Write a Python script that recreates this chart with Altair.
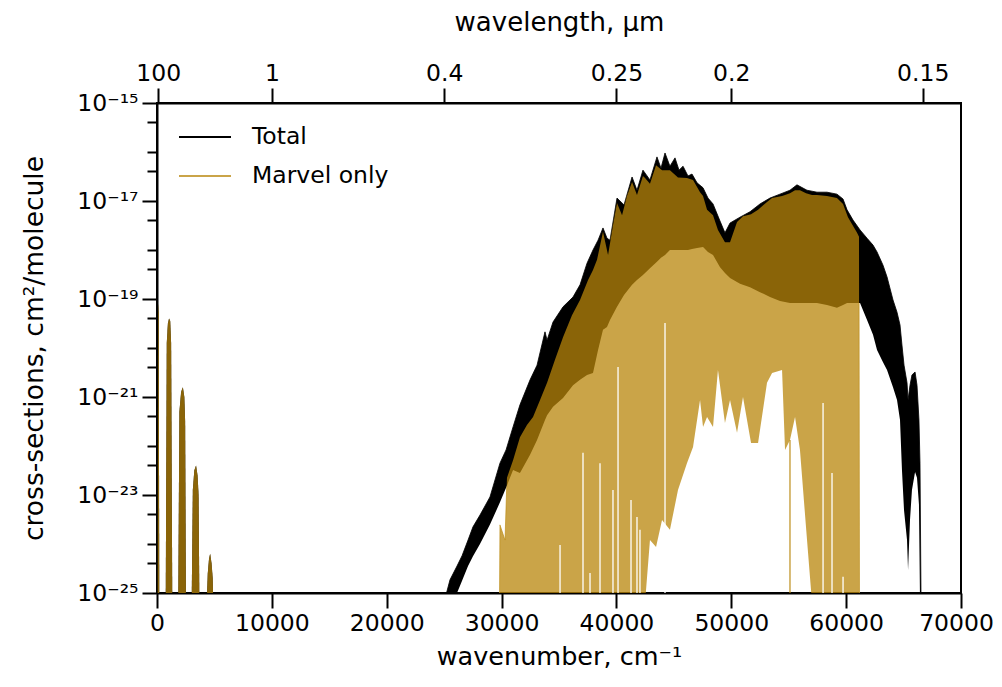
import altair as alt
import pandas as pd

# ---------------- data (log10 of cross-section, cm^2/molecule) -------------
# "Total": envelope of the dense line spectrum (upper and lower edge of the black band)
total_wn = [25160, 25510, 26120, 26560, 27080, 27510, 28120, 28990, 29860, 30390,
            31000, 31600, 32480, 33090, 33780, 33960, 34480, 35350, 36220, 36830,
            37440, 37960, 38400, 38830, 39180, 39440, 40050, 40660, 41360, 41790,
            42310, 42920, 43530, 43880, 44230, 44660, 45100, 45450, 45800, 46230,
            46580, 47020, 47540, 47970, 48410, 49020, 49450, 49890, 50760, 51630,
            52500, 53370, 54240, 55110, 55720, 56590, 57460, 58330, 59200, 59730,
            60080, 60600, 61210, 61820, 62340, 62690, 63210, 63560, 64080, 64430,
            64690, 64860, 65040, 65300, 65390, 65560, 65730, 66000, 66170, 66340,
            66430, 66520]
total_hi = [-25.04, -24.73, -24.45, -24.24, -23.92, -23.65, -23.41, -23.04, -22.35, -22.08,
            -21.61, -21.16, -20.65, -20.35, -19.67, -19.84, -19.47, -19.16, -18.96, -18.71,
            -18.27, -18.00, -17.80, -17.55, -17.76, -17.80, -16.94, -17.08, -16.51, -16.78,
            -16.37, -16.57, -16.10, -16.33, -16.02, -16.29, -16.12, -16.37, -16.29, -16.49,
            -16.45, -16.63, -16.73, -16.94, -17.06, -17.41, -17.65, -17.45, -17.33, -17.22,
            -17.06, -16.94, -16.86, -16.78, -16.67, -16.78, -16.82, -16.82, -16.86, -16.96,
            -17.18, -17.39, -17.59, -17.76, -17.90, -18.04, -18.31, -18.55, -19.02, -19.27,
            -19.53, -19.94, -20.35, -20.71, -21.06, -20.76, -20.55, -20.49, -20.76, -21.47,
            -22.35, -25.14]
total_lo = [-25.14, -25.14, -25.00, -24.75, -24.45, -24.25, -24.00, -23.60, -23.15, -22.85,
            -22.49, -22.55, -22.18, -21.88, -21.47, -21.37, -21.20, -21.02, -20.76, -20.65,
            -20.55, -20.51, -20.04, -19.63, -19.57, -19.43, -19.16, -18.92, -18.71, -18.61,
            -18.51, -18.37, -18.24, -18.16, -18.10, -18.00, -18.00, -18.00, -18.00, -18.00,
            -17.98, -17.96, -17.94, -18.04, -18.10, -18.35, -18.47, -18.57, -18.69, -18.76,
            -18.86, -18.96, -19.04, -19.08, -19.08, -19.08, -19.08, -19.12, -19.18, -19.12,
            -19.08, -19.08, -19.08, -19.43, -19.73, -20.04, -20.29, -20.45, -20.80, -21.06,
            -21.47, -22.49, -23.31, -23.92, -24.53, -23.51, -22.90, -22.53, -22.65, -23.20,
            -25.14, -25.14]

# "Marvel only": upper envelope and lowest extent of its lines
marvel_wn = [29820, 29860, 30300, 30470, 31000, 31600, 32210, 32740, 33350, 33960,
             34650, 35350, 36130, 36830, 37530, 37960, 38310, 38830, 39270, 39700,
             40050, 40490, 40920, 41360, 41790, 42310, 42490, 42920, 43450, 43970,
             44660, 45360, 46140, 46670, 47280, 47540, 47890, 48410, 48840, 49450,
             49890, 50500, 51020, 51720, 52330, 53110, 53550, 54420, 54680, 55110,
             55550, 55980, 56510, 57030, 57460, 58330, 59200, 59730, 60160, 60950,
             61120, 61160]
marvel_hi = [-25.2, -23.61, -23.92, -22.65, -22.29, -21.82, -21.57, -21.41, -21.06, -20.71,
             -20.24, -19.78, -19.33, -19.02, -18.61, -18.41, -18.20, -17.63, -18.10, -17.50,
             -17.04, -17.29, -16.90, -16.61, -16.88, -16.49, -16.53, -16.65, -16.27, -16.37,
             -16.37, -16.52, -16.53, -16.57, -16.82, -16.90, -17.18, -17.29, -17.59, -17.84,
             -17.84, -17.43, -17.31, -17.27, -17.18, -17.02, -16.94, -16.90, -16.88, -16.84,
             -16.78, -16.78, -16.84, -16.88, -16.88, -16.90, -16.94, -17.06, -17.33, -17.65,
             -17.73, -25.2]
marvel_lo = [-25.2, -25.2, -25.2, -25.2, -25.2, -25.2, -25.2, -25.2, -25.2, -25.2,
             -25.2, -25.2, -25.2, -25.2, -25.2, -25.2, -25.2, -25.2, -25.2, -25.2,
             -25.2, -25.2, -25.2, -25.2, -25.2, -25.2, -25.2, -23.92, -24.06, -23.51,
             -23.71, -22.90, -22.35, -22.02, -21.06, -21.61, -21.41, -21.61, -20.45, -21.53,
             -21.06, -21.73, -21.00, -21.94, -21.94, -20.71, -20.51, -20.45, -22.08, -21.88,
             -21.41, -22.08, -23.67, -25.2, -25.2, -25.2, -25.2, -25.2, -25.2, -25.2,
             -25.2, -25.2]

# single deep Marvel lines, and the gaps between lines near the bottom
spike_wn = [55110]
spike_top = [-21.88]
gap_wn = [35090, 37090, 37700, 38570, 39700, 40140, 41270, 41790, 42050, 44230,
          57990, 58770, 59730]
gap_top = [-24.02, -22.14, -24.59, -22.35, -22.90, -20.39, -23.10, -23.45, -23.71, -19.49,
           -21.12, -22.55, -24.67]

# low-wavenumber rotational bands (Total and Marvel coincide)
band_id = [1] * 4 + [2] * 7 + [3] * 7 + [4] * 7 + [5] * 7
band_wn = [60, 90, 150, 200,
           760, 850, 950, 1050, 1150, 1230, 1330,
           1850, 1950, 2100, 2250, 2380, 2450, 2520,
           3020, 3120, 3250, 3400, 3530, 3620, 3690,
           4330, 4420, 4530, 4630, 4750, 4850, 4900]
band_val = [-25.2, -19.1, -19.3, -25.2,
            -25.2, -19.9, -19.5, -19.4, -19.45, -19.9, -25.2,
            -25.2, -21.3, -20.9, -20.8, -21.0, -21.5, -25.2,
            -25.2, -22.9, -22.5, -22.4, -22.6, -23.0, -25.2,
            -25.2, -24.6, -24.3, -24.2, -24.4, -24.7, -25.2]

# axis ticks
x_ticks = [0, 10000, 20000, 30000, 40000, 50000, 60000, 70000]
top_ticks_um = [100, 1, 0.4, 0.25, 0.2, 0.15]
y_major_exp = [-25, -23, -21, -19, -17, -15]
y_major_lab = ['10⁻²⁵', '10⁻²³', '10⁻²¹', '10⁻¹⁹', '10⁻¹⁷', '10⁻¹⁵']
y_minor = [4e-16, 1e-16, 4e-17, 4e-18, 1e-18, 4e-19, 4e-20, 1e-20, 4e-21,
           4e-22, 1e-22, 4e-23, 4e-24, 1e-24, 4e-25]

BASE = 1e-26
FONT = 'DejaVu Sans'
BLACK = '#000000'
GOLD = '#B8860B'
GOLD_LEGEND = '#CAA448'

# ---------------- tables ----------------
tot = pd.DataFrame({'wn': total_wn,
                    'hi': [10.0 ** v for v in total_hi],
                    'lo': [10.0 ** v for v in total_lo]})
mar = pd.DataFrame({'wn': marvel_wn,
                    'hi': [10.0 ** v for v in marvel_hi],
                    'lo': [10.0 ** v for v in marvel_lo]})
bands = pd.DataFrame({'wn': band_wn, 'v': [10.0 ** v for v in band_val],
                      'band': band_id, 'base': BASE})
spikes = pd.DataFrame({'wn': spike_wn, 'top': [10.0 ** v for v in spike_top], 'base': BASE})
gaps = pd.DataFrame({'wn': gap_wn, 'top': [10.0 ** v for v in gap_top], 'base': BASE})
leg = pd.concat([
    pd.DataFrame({'wn': total_wn, 'v': [10.0 ** v for v in total_hi], 'series': 'Total'}),
    pd.DataFrame({'wn': marvel_wn, 'v': [10.0 ** v for v in marvel_hi], 'series': 'Marvel only'}),
])

# ---------------- scales / axes ----------------
xscale = alt.Scale(domain=[0, 70000], nice=False, zero=False)
yscale = alt.Scale(type='log', domain=[1e-25, 1e-15], nice=False)

E = 'round(log(datum.value)/LN10)'
is_major = f'abs(log(datum.value)/LN10 - {E}) < 0.001 && {E} % 2 != 0'
lab = "''"
for e, s in zip(y_major_exp, y_major_lab):
    lab = f"{E} == {e} ? '{s}' : ({lab})"
y_label_expr = f'({is_major}) ? ({lab}) : \'\''
y_values = [10.0 ** e for e in y_major_exp] + y_minor

xaxis = alt.Axis(title='wavenumber, cm⁻¹', values=x_ticks, format='d', tickSize=15,
                 labelPadding=3, titlePadding=10, grid=False, labelFlush=False,
                 labelOverlap=False, titleFontSize=25.5,
                 labelOffset={'condition': {'test': 'datum.value >= 70000', 'value': -5},
                              'value': 0})
yaxis = alt.Axis(title='cross-sections, cm²/molecule', values=y_values,
                 labelExpr=y_label_expr,
                 tickSize={'condition': {'test': is_major, 'value': 15}, 'value': 10},
                 labelPadding=4, titlePadding=28, grid=False, labelFlush=False,
                 labelOverlap=False, titleFontSize=26.5)
top_axis = alt.Axis(orient='top', title='wavelength, μm',
                    values=[1e4 / w for w in top_ticks_um],
                    labelExpr="format(10000/datum.value, '~g')", tickSize=15,
                    labelPadding=3, titlePadding=26, grid=False, labelFlush=False,
                    labelOverlap=False, titleFontSize=26)


def X():
    return alt.X('wn:Q', scale=xscale, axis=xaxis)


legend_lines = alt.Chart(leg).mark_line(strokeWidth=0.8, clip=True).encode(
    x=X(), y=alt.Y('v:Q', scale=yscale, axis=yaxis),
    color=alt.Color('series:N', scale=alt.Scale(domain=['Total', 'Marvel only'],
                                                range=[BLACK, GOLD_LEGEND]),
                    legend=alt.Legend(title=None)),
)

total_band = alt.Chart(tot).mark_area(color=BLACK, clip=True).encode(
    x=X(), y=alt.Y('hi:Q', scale=yscale, axis=yaxis), y2='lo:Q')
total_low = alt.Chart(bands).mark_area(color=BLACK, clip=True).encode(
    x=X(), y=alt.Y('v:Q', scale=yscale, axis=yaxis), y2='base:Q', detail='band:N')
marvel_band = alt.Chart(mar).mark_area(color=GOLD, opacity=0.75, clip=True).encode(
    x=X(), y=alt.Y('hi:Q', scale=yscale, axis=yaxis), y2='lo:Q')
marvel_low = alt.Chart(bands).mark_area(color=GOLD, opacity=0.75, clip=True).encode(
    x=X(), y=alt.Y('v:Q', scale=yscale, axis=yaxis), y2='base:Q', detail='band:N')
marvel_spikes = alt.Chart(spikes).mark_rule(color=GOLD, opacity=0.75, strokeWidth=1.5,
                                            clip=True).encode(
    x=X(), y=alt.Y('top:Q', scale=yscale, axis=yaxis), y2='base:Q')
marvel_gaps = alt.Chart(gaps).mark_rule(color='white', strokeWidth=1.3, clip=True).encode(
    x=X(), y=alt.Y('top:Q', scale=yscale, axis=yaxis), y2='base:Q')

main = alt.layer(legend_lines, total_band, total_low, marvel_band, marvel_low,
                 marvel_spikes, marvel_gaps)

top = alt.Chart(tot).mark_point(opacity=0, clip=True).encode(
    x=alt.X('wn:Q', scale=xscale, axis=top_axis),
    y=alt.Y('hi:Q', scale=yscale, axis=yaxis))

chart = alt.layer(main, top).resolve_axis(x='independent').properties(
    width=804, height=490,
    autosize=alt.AutoSizeParams(type='none'),
    padding={'left': 149, 'top': 95, 'right': 33, 'bottom': 81},
).configure(font=FONT).configure_axis(
    labelFont=FONT, titleFont=FONT, labelFontSize=23.5, titleFontSize=26,
    titleFontWeight='normal', labelColor='black', titleColor='black',
    domainColor='black', domainWidth=2, tickColor='black', tickWidth=2,
).configure_view(stroke='black', strokeWidth=2).configure_legend(
    orient='none', legendX=21, legendY=7, padding=0,
    symbolType='stroke', symbolSize=2704, symbolStrokeWidth=1.8,
    labelFont=FONT, labelFontSize=23.5, labelColor='black', labelOffset=20,
    rowPadding=0,
)

chart.save('out.html', embed_options={'renderer': 'svg', 'actions': False})
